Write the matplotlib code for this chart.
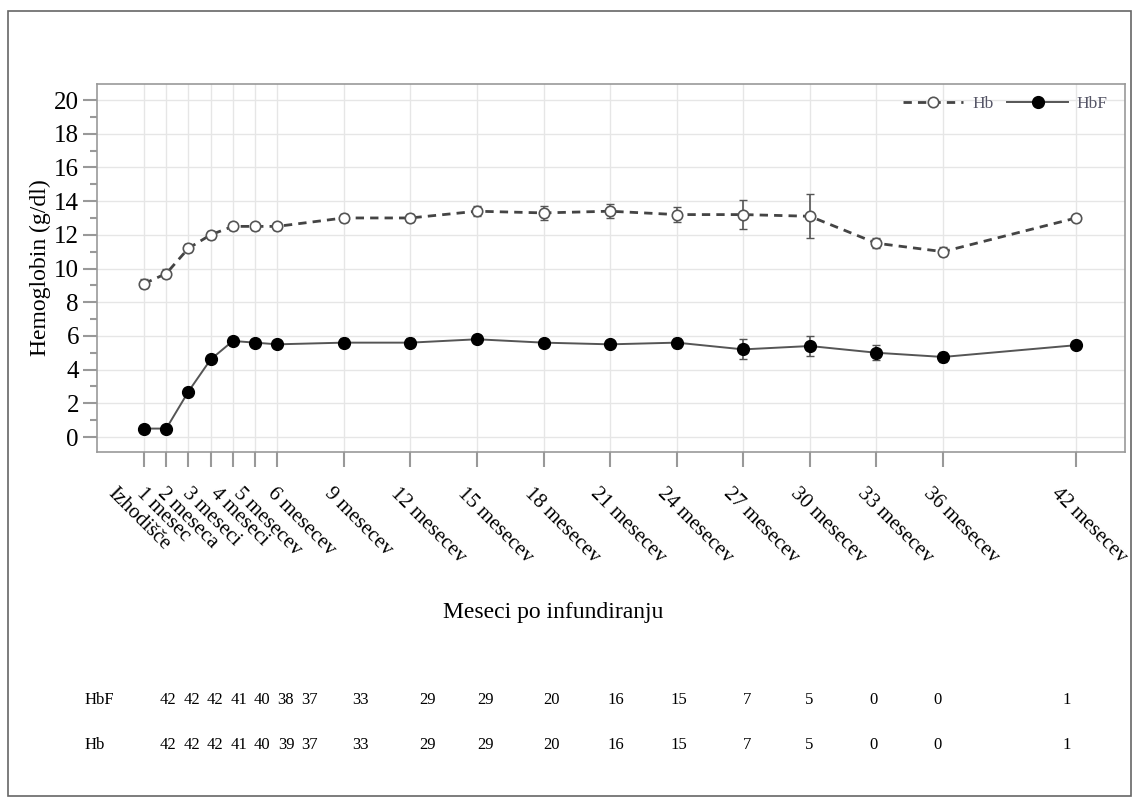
import numpy as np
import matplotlib
matplotlib.use('Agg')
import matplotlib.pyplot as plt
from matplotlib.transforms import ScaledTranslation, blended_transform_factory
from matplotlib.patches import Rectangle

plt.rcParams['font.family'] = ['Liberation Serif', 'DejaVu Serif']

# data
months = [0, 1, 2, 3, 4, 5, 6, 9, 12, 15, 18, 21, 24, 27, 30, 33, 36, 42]
month_labels = ['Izhodišče', '1 mesec', '2 meseca', '3 meseci', '4 meseci', '5 mesecev',
                '6 mesecev', '9 mesecev', '12 mesecev', '15 mesecev', '18 mesecev',
                '21 mesecev', '24 mesecev', '27 mesecev', '30 mesecev', '33 mesecev',
                '36 mesecev', '42 mesecev']
hb = [9.1, 9.7, 11.2, 12.0, 12.5, 12.5, 12.5, 13.0, 13.0, 13.4, 13.3, 13.4, 13.2, 13.2,
      13.1, 11.5, 11.0, 13.0]
hb_err = [0.25, 0.25, 0.25, 0.25, 0.2, 0.2, 0.2, 0.25, 0.25, 0.3, 0.4, 0.4, 0.45, 0.85,
          1.3, 0.3, 0.25, 0.1]
hbf = [0.5, 0.5, 2.7, 4.6, 5.7, 5.6, 5.5, 5.6, 5.6, 5.8, 5.6, 5.5, 5.6, 5.2, 5.4, 5.0,
       4.75, 5.45]
hbf_err = [0.2, 0.2, 0.2, 0.2, 0.2, 0.2, 0.2, 0.25, 0.25, 0.25, 0.2, 0.2, 0.3, 0.6, 0.6,
           0.45, 0.3, 0.1]
n_hbf = [42, 42, 42, 41, 40, 38, 37, 33, 29, 29, 20, 16, 15, 7, 5, 0, 0, 1]
n_hb = [42, 42, 42, 41, 40, 39, 37, 33, 29, 29, 20, 16, 15, 7, 5, 0, 0, 1]

W, H = 1132, 805
fig = plt.figure(figsize=(W / 100, H / 100), dpi=100)
ax = fig.add_axes([97 / W, 1 - 452 / H, (1125 - 97) / W, (452 - 84) / H])

# error bars first, then the lines with markers (legend uses the lines)
ax.errorbar(months, hb, yerr=hb_err, fmt='none', ecolor='#555555',
            elinewidth=1.2, capsize=3, zorder=2)
ax.errorbar(months, hbf, yerr=hbf_err, fmt='none', ecolor='#555555',
            elinewidth=1.2, capsize=3, zorder=2)
ax.plot(months, hb, color='#444444', ls=(0, (3, 2.2)), lw=2,
        marker='o', ms=7.5, mfc='white', mec='#555555', mew=1.2, label='Hb', zorder=3)
ax.plot(months, hbf, color='#555555', ls='-', lw=1.4,
        marker='o', ms=8.5, mfc='black', mec='black', label='HbF', zorder=3)

ax.set_xlim(-2.12, 44.2)
ax.set_ylim(-0.89, 20.95)
ax.set_yticks(np.arange(0, 21, 2))
ax.set_yticks(np.arange(1, 21, 2), minor=True)
ax.set_xticks(months)

ax.tick_params(axis='y', which='major', length=10, width=1.5, color='#999999',
               labelsize=18, pad=3)
ax.tick_params(axis='y', which='minor', length=5, width=1.5, color='#999999')
ax.tick_params(axis='x', length=11, width=1.5, color='#999999', labelbottom=False)

# slanted month labels, nudged left like in the original (pixel offsets)
label_dx = [-27, -20, -22, -19, -13, -12, 0, -10, -10, -10, -10, -10, -10, -10,
            -10, -10, -10, -15]
base = blended_transform_factory(ax.transData, ax.transAxes)
for m, txt, dx in zip(months, month_labels, label_dx):
    tr = base + ScaledTranslation(dx / 100, -32 / 100, fig.dpi_scale_trans)
    ax.text(m, 0, txt, transform=tr, rotation=-45, rotation_mode='anchor',
            ha='left', va='top', fontsize=15, clip_on=False)

ax.grid(True, which='major', color='#e6e6e6', lw=1)
ax.set_axisbelow(True)
for sp in ax.spines.values():
    sp.set_color('#999999')
    sp.set_linewidth(1.2)

ax.set_ylabel('Hemoglobin (g/dl)', fontsize=17, labelpad=2)

leg = ax.legend(loc='upper right', ncol=2, frameon=False, fontsize=12.5,
                handlelength=3.5, handletextpad=0.5, columnspacing=0.8,
                borderaxespad=0.3, bbox_to_anchor=(0.995, 1.0))
for t in leg.get_texts():
    t.set_color('#555566')

fig.text(553 / W, 1 - 612 / H, 'Meseci po infundiranju', fontsize=17,
         ha='center', va='center')

# number-at-risk table
table_x = [168, 192, 215, 239, 262, 286, 309, 360, 427, 485, 552, 616, 679, 747,
           809, 874, 937, 1067]
fig.text(85 / W, 1 - 700 / H, 'HbF', fontsize=12, ha='left', va='center')
fig.text(85 / W, 1 - 745 / H, 'Hb', fontsize=12, ha='left', va='center')
for x, a, b in zip(table_x, n_hbf, n_hb):
    fig.text(x / W, 1 - 700 / H, str(a), fontsize=12, ha='center', va='center')
    fig.text(x / W, 1 - 745 / H, str(b), fontsize=12, ha='center', va='center')

fig.patches.append(Rectangle((8 / W, 1 - 796 / H), (1131 - 8) / W, (796 - 11) / H,
                             transform=fig.transFigure, fill=False,
                             edgecolor='#666666', lw=1.2))

fig.savefig('out.png', dpi=100)
